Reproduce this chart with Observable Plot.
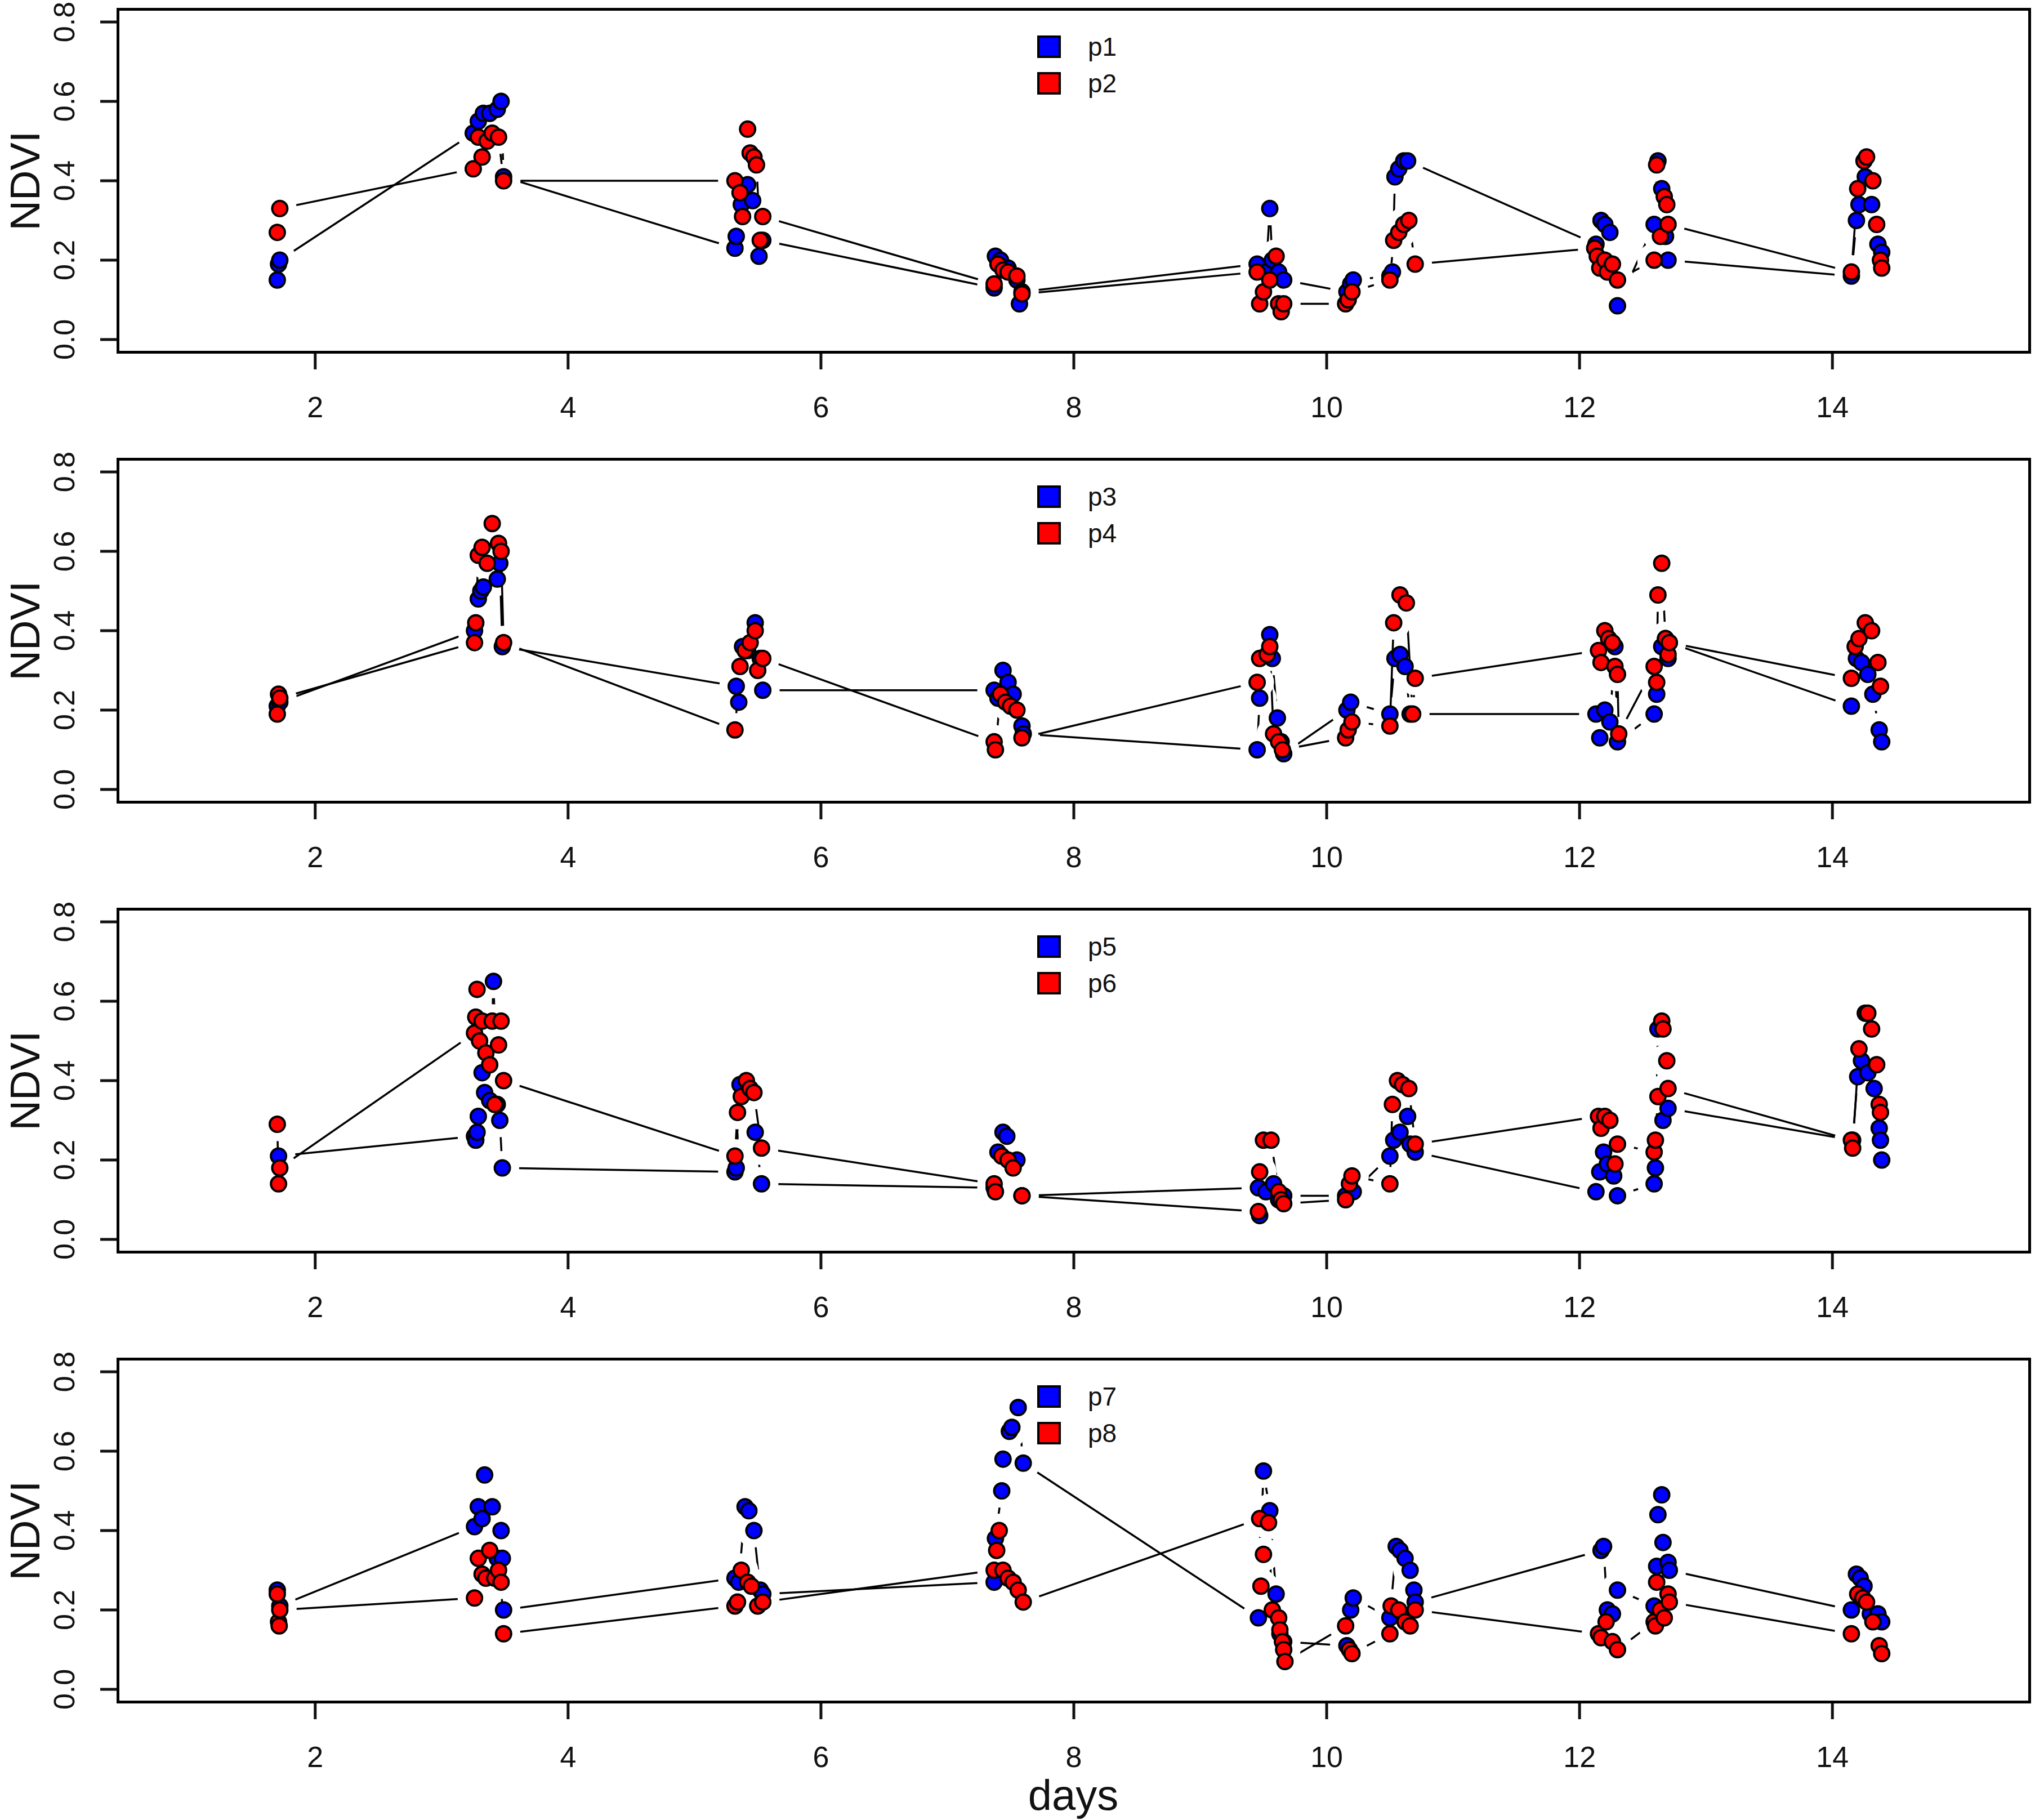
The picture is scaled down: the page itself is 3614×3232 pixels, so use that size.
<!DOCTYPE html>
<html><head><meta charset="utf-8">
<script src="https://cdn.jsdelivr.net/npm/d3@7"></script>
<script src="https://cdn.jsdelivr.net/npm/@observablehq/plot@0.6"></script>
<style>
html,body{margin:0;padding:0;background:#fff;}
#wrap{position:relative;width:3614px;height:3232px;background:#fff;font-family:"Liberation Sans",Arial,sans-serif;color:#111;overflow:hidden;}
.panel{position:absolute;left:0;}
.lg{position:absolute;left:1842px;height:40px;display:flex;align-items:center;}
.sq{width:34px;height:32px;border:4px solid #000;}
.lt{margin-left:48px;font-size:46px;line-height:40px;color:#111;}
#days{position:absolute;left:1906px;top:3158px;transform:translateX(-50%);font-size:76px;line-height:60px;color:#111;}
</style></head><body><div id="wrap"></div><script>
// tick values
const xTicks = [2, 4, 6, 8, 10, 12, 14];
const yTicks = [0, 0.2, 0.4, 0.6, 0.8];
// legend names per panel
const names = [["p1","p2"],["p3","p4"],["p5","p6"],["p7","p8"]];
// series colours
const seriesColors = ["#0000ff", "#ff0000"];

// [days, NDVI]
const p1 = [
[1.70,0.15],[1.71,0.19],[1.72,0.20],
[3.25,0.52],[3.29,0.55],[3.33,0.57],[3.38,0.57],[3.44,0.58],[3.47,0.60],[3.49,0.41],
[5.32,0.23],[5.33,0.26],[5.37,0.34],[5.42,0.39],[5.46,0.35],[5.51,0.21],[5.54,0.25],
[7.37,0.13],[7.38,0.21],[7.42,0.20],[7.48,0.18],[7.55,0.15],[7.57,0.09],[7.59,0.12],
[9.45,0.19],[9.52,0.17],[9.55,0.33],[9.57,0.20],[9.62,0.17],[9.66,0.15],
[10.16,0.12],[10.19,0.14],[10.21,0.15],
[10.50,0.16],[10.52,0.17],[10.54,0.41],[10.57,0.43],[10.61,0.45],[10.64,0.45],
[12.13,0.24],[12.17,0.30],[12.20,0.29],[12.24,0.27],[12.30,0.085],
[12.59,0.29],[12.62,0.45],[12.65,0.38],[12.68,0.26],[12.70,0.20],
[14.15,0.16],[14.19,0.30],[14.21,0.34],[14.26,0.41],[14.31,0.34],[14.36,0.24],[14.39,0.22]];
const p2 = [
[1.70,0.27],[1.72,0.33],
[3.25,0.43],[3.29,0.51],[3.32,0.46],[3.36,0.50],[3.40,0.52],[3.45,0.51],[3.49,0.40],
[5.32,0.40],[5.36,0.37],[5.38,0.31],[5.42,0.53],[5.44,0.47],[5.47,0.46],[5.49,0.44],[5.52,0.25],[5.54,0.31],
[7.37,0.14],[7.40,0.19],[7.44,0.175],[7.48,0.17],[7.55,0.16],[7.59,0.115],
[9.45,0.17],[9.47,0.09],[9.50,0.12],[9.55,0.15],[9.60,0.21],[9.62,0.09],[9.64,0.07],[9.66,0.09],
[10.15,0.09],[10.17,0.10],[10.20,0.12],
[10.50,0.15],[10.53,0.25],[10.57,0.27],[10.61,0.29],[10.65,0.30],[10.70,0.19],
[12.12,0.23],[12.14,0.21],[12.16,0.18],[12.20,0.20],[12.22,0.17],[12.26,0.19],[12.30,0.15],
[12.59,0.20],[12.61,0.44],[12.64,0.26],[12.67,0.36],[12.69,0.34],[12.70,0.29],
[14.15,0.17],[14.20,0.38],[14.25,0.45],[14.27,0.46],[14.32,0.40],[14.35,0.29],[14.38,0.20],[14.39,0.18]];
const p3 = [
[1.70,0.21],[1.72,0.22],
[3.26,0.40],[3.29,0.48],[3.31,0.50],[3.33,0.51],[3.44,0.53],[3.46,0.57],[3.48,0.36],
[5.33,0.26],[5.35,0.22],[5.38,0.36],[5.42,0.35],[5.48,0.42],[5.52,0.33],[5.54,0.25],
[7.37,0.25],[7.40,0.23],[7.44,0.30],[7.48,0.27],[7.52,0.24],[7.59,0.16],[7.60,0.14],
[9.45,0.10],[9.47,0.23],[9.55,0.39],[9.57,0.33],[9.61,0.18],[9.64,0.12],[9.66,0.09],
[10.16,0.20],[10.19,0.22],
[10.50,0.19],[10.54,0.33],[10.58,0.34],[10.62,0.31],[10.66,0.19],
[12.13,0.19],[12.16,0.13],[12.20,0.20],[12.24,0.17],[12.28,0.36],[12.30,0.12],
[12.59,0.19],[12.61,0.24],[12.65,0.36],[12.68,0.38],[12.70,0.33],[12.71,0.37],
[14.15,0.21],[14.19,0.33],[14.23,0.32],[14.28,0.29],[14.32,0.24],[14.37,0.15],[14.39,0.12]];
const p4 = [
[1.70,0.19],[1.71,0.24],[1.72,0.23],
[3.26,0.37],[3.27,0.42],[3.29,0.59],[3.32,0.61],[3.36,0.57],[3.40,0.67],[3.45,0.62],[3.47,0.60],[3.49,0.37],
[5.32,0.15],[5.36,0.31],[5.40,0.35],[5.44,0.37],[5.48,0.40],[5.50,0.30],[5.54,0.33],
[7.37,0.12],[7.38,0.10],[7.42,0.24],[7.46,0.22],[7.50,0.21],[7.55,0.20],[7.59,0.13],
[9.45,0.27],[9.47,0.33],[9.53,0.34],[9.55,0.36],[9.58,0.14],[9.62,0.12],[9.65,0.10],
[10.15,0.13],[10.17,0.15],[10.20,0.17],
[10.50,0.16],[10.53,0.42],[10.58,0.49],[10.63,0.47],[10.68,0.19],[10.70,0.28],
[12.15,0.35],[12.17,0.32],[12.20,0.40],[12.23,0.38],[12.26,0.37],[12.28,0.31],[12.30,0.29],[12.31,0.14],
[12.59,0.31],[12.61,0.27],[12.62,0.49],[12.65,0.57],[12.68,0.38],[12.70,0.34],[12.71,0.37],
[14.15,0.28],[14.18,0.36],[14.21,0.38],[14.26,0.42],[14.31,0.40],[14.36,0.32],[14.38,0.26]];
const p5 = [
[1.71,0.21],
[3.26,0.26],[3.27,0.25],[3.28,0.27],[3.29,0.31],[3.32,0.42],[3.34,0.37],[3.38,0.35],[3.41,0.65],[3.44,0.34],[3.46,0.30],[3.48,0.18],
[5.32,0.17],[5.33,0.18],[5.36,0.39],[5.48,0.27],[5.53,0.14],
[7.37,0.13],[7.40,0.22],[7.44,0.27],[7.47,0.26],[7.55,0.20],[7.59,0.11],
[9.46,0.13],[9.47,0.06],[9.52,0.12],[9.58,0.14],[9.62,0.10],[9.66,0.11],
[10.15,0.11],[10.21,0.12],
[10.50,0.21],[10.53,0.25],[10.58,0.27],[10.64,0.31],[10.66,0.24],[10.70,0.22],
[12.13,0.12],[12.16,0.17],[12.19,0.22],[12.22,0.19],[12.27,0.16],[12.30,0.11],
[12.59,0.14],[12.60,0.18],[12.62,0.53],[12.66,0.30],[12.70,0.33],
[14.16,0.25],[14.20,0.41],[14.23,0.45],[14.28,0.42],[14.33,0.38],[14.37,0.28],[14.38,0.25],[14.39,0.20]];
const p6 = [
[1.70,0.29],[1.71,0.14],[1.72,0.18],
[3.26,0.52],[3.27,0.56],[3.28,0.63],[3.30,0.50],[3.32,0.55],[3.35,0.47],[3.38,0.44],[3.40,0.55],[3.42,0.34],[3.45,0.49],[3.47,0.55],[3.49,0.40],
[5.32,0.21],[5.34,0.32],[5.37,0.36],[5.41,0.40],[5.44,0.38],[5.47,0.37],[5.53,0.23],
[7.37,0.14],[7.38,0.12],[7.43,0.21],[7.48,0.20],[7.52,0.18],[7.59,0.11],
[9.46,0.07],[9.47,0.17],[9.50,0.25],[9.56,0.25],[9.62,0.12],[9.64,0.10],[9.66,0.09],
[10.15,0.10],[10.18,0.14],[10.20,0.16],
[10.50,0.14],[10.52,0.34],[10.56,0.40],[10.60,0.39],[10.65,0.38],[10.70,0.24],
[12.15,0.31],[12.17,0.28],[12.20,0.31],[12.24,0.30],[12.28,0.19],[12.30,0.24],
[12.59,0.22],[12.60,0.25],[12.62,0.36],[12.65,0.55],[12.66,0.53],[12.69,0.45],[12.70,0.38],
[14.15,0.25],[14.16,0.23],[14.21,0.48],[14.26,0.57],[14.28,0.57],[14.31,0.53],[14.35,0.44],[14.37,0.34],[14.38,0.32]];
const p7 = [
[1.70,0.25],[1.72,0.21],
[3.26,0.41],[3.29,0.46],[3.32,0.43],[3.34,0.54],[3.40,0.46],[3.44,0.33],[3.47,0.40],[3.48,0.33],[3.49,0.20],
[5.32,0.28],[5.35,0.27],[5.40,0.46],[5.43,0.45],[5.47,0.40],[5.52,0.25],[5.54,0.24],
[7.37,0.27],[7.38,0.38],[7.43,0.50],[7.44,0.58],[7.49,0.65],[7.51,0.66],[7.56,0.71],[7.60,0.57],
[9.46,0.18],[9.50,0.55],[9.55,0.45],[9.60,0.24],[9.63,0.14],[9.66,0.12],
[10.16,0.11],[10.19,0.20],[10.21,0.23],
[10.50,0.18],[10.55,0.36],[10.58,0.35],[10.62,0.33],[10.66,0.30],[10.69,0.25],[10.70,0.22],
[12.17,0.35],[12.19,0.36],[12.22,0.20],[12.26,0.19],[12.30,0.25],
[12.59,0.21],[12.61,0.31],[12.62,0.44],[12.65,0.49],[12.66,0.37],[12.70,0.32],[12.71,0.30],
[14.15,0.20],[14.19,0.29],[14.22,0.28],[14.25,0.26],[14.30,0.19],[14.36,0.19],[14.39,0.17]];
const p8 = [
[1.70,0.24],[1.71,0.17],[1.715,0.16],[1.72,0.20],
[3.26,0.23],[3.29,0.33],[3.32,0.29],[3.35,0.28],[3.38,0.35],[3.42,0.28],[3.45,0.30],[3.47,0.27],[3.49,0.14],
[5.32,0.21],[5.34,0.22],[5.37,0.30],[5.42,0.27],[5.45,0.26],[5.50,0.21],[5.54,0.22],
[7.37,0.30],[7.39,0.35],[7.41,0.40],[7.44,0.30],[7.48,0.28],[7.52,0.27],[7.56,0.25],[7.60,0.22],
[9.47,0.43],[9.48,0.26],[9.50,0.34],[9.54,0.42],[9.57,0.20],[9.62,0.18],[9.63,0.15],[9.65,0.12],[9.66,0.10],[9.67,0.07],
[10.15,0.16],[10.18,0.10],[10.20,0.09],
[10.50,0.14],[10.51,0.21],[10.57,0.20],[10.62,0.17],[10.66,0.16],[10.70,0.20],
[12.15,0.14],[12.17,0.13],[12.21,0.17],[12.26,0.12],[12.30,0.10],
[12.59,0.17],[12.60,0.16],[12.61,0.27],[12.64,0.20],[12.67,0.18],[12.70,0.24],[12.71,0.22],
[14.15,0.14],[14.20,0.24],[14.24,0.23],[14.27,0.22],[14.32,0.17],[14.37,0.11],[14.39,0.09]];

const panels = [[p1,p2],[p3,p4],[p5,p6],[p7,p8]];

const PANEL_H = 799;
const FONT = "Liberation Sans, Arial, Helvetica, sans-serif";
const wrap = document.getElementById("wrap");

panels.forEach((pair, k) => {
  const [blue, red] = pair.map(s => s.map(([x, y]) => ({x, y})));
  const lineOpts = {x: "x", y: "y", stroke: "black", strokeWidth: 3.5};
  const haloOpts = {x: "x", y: "y", r: 30, fill: "white", stroke: "none"};
  const dotOpts = c => ({x: "x", y: "y", r: 13.5, fill: c, stroke: "black", strokeWidth: 4});
  const svg = Plot.plot({
    width: 3614,
    height: PANEL_H,
    marginTop: 16,
    marginBottom: 174,
    marginLeft: 209,
    marginRight: 10,
    x: {domain: [0.44, 15.56]},
    y: {domain: [-0.032, 0.832]},
    style: {fontFamily: FONT, background: "white", color: "#111", overflow: "visible"},
    marks: [
      Plot.line(blue, lineOpts),
      Plot.dot(blue, haloOpts),
      Plot.line(red, lineOpts),
      Plot.dot(red, haloOpts),
      Plot.dot(blue, dotOpts(seriesColors[0])),
      Plot.dot(red, dotOpts(seriesColors[1])),
      Plot.axisX(xTicks, {tickSize: 31, strokeWidth: 5, tickFormat: () => "", label: null}),
      Plot.text(xTicks, {x: d => d, frameAnchor: "bottom", dy: 99, text: d => String(d), fontSize: 52, lineAnchor: "middle", fill: "#111"}),
      Plot.axisY(yTicks, {tickSize: 31, strokeWidth: 5, tickFormat: () => "", label: null}),
      Plot.text(yTicks, {y: d => d, frameAnchor: "left", dx: -94, text: d => d.toFixed(1), rotate: -90, fontSize: 52, textAnchor: "middle", lineAnchor: "middle", fill: "#111"}),
      Plot.text(["NDVI"], {frameAnchor: "left", dx: -163, text: d => d, rotate: -90, fontSize: 74, textAnchor: "middle", lineAnchor: "middle", fill: "#111"}),
      Plot.frame({stroke: "black", strokeWidth: 5})
    ]
  });
  svg.classList.add("panel");
  svg.style.top = (k * PANEL_H) + "px";
  wrap.appendChild(svg);

  names[k].forEach((nm, j) => {
    const row = document.createElement("div");
    row.className = "lg";
    row.style.top = (k * PANEL_H + 63 + j * 65) + "px";
    const sq = document.createElement("div");
    sq.className = "sq";
    sq.style.background = seriesColors[j];
    const t = document.createElement("div");
    t.className = "lt";
    t.textContent = nm;
    row.appendChild(sq);
    row.appendChild(t);
    wrap.appendChild(row);
  });
});

const days = document.createElement("div");
days.id = "days";
days.textContent = "days";
wrap.appendChild(days);
</script></body></html>
